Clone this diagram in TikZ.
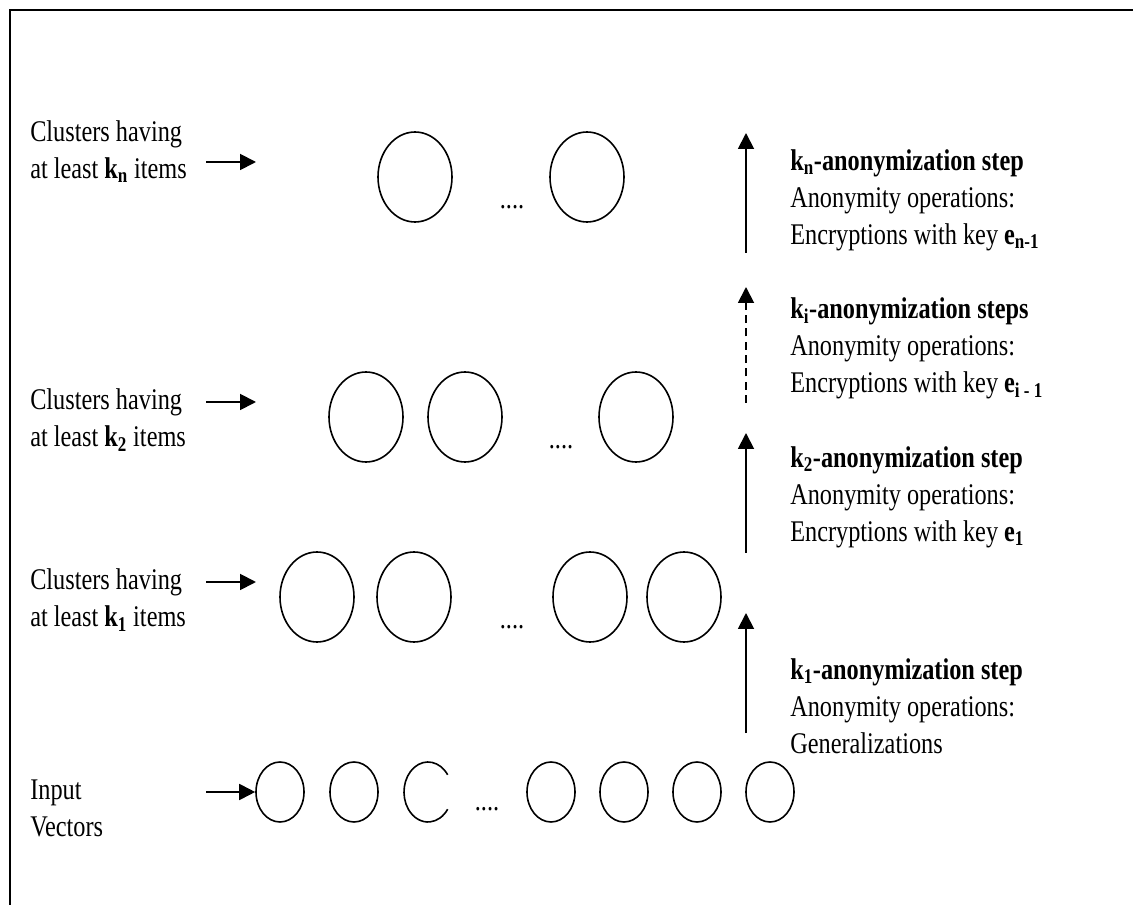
\documentclass[tikz,border=0pt]{standalone}
\usepackage{fontspec}
\setmainfont[FakeStretch=0.81]{Liberation Serif}
\usetikzlibrary{arrows.meta,shapes.geometric}

\tikzset{grappe/.style = {ellipse, draw, line width=1.2pt, inner sep=0pt,
                          minimum width=55.5pt, minimum height=67.5pt},
         vecteur/.style = {grappe, minimum width=36pt, minimum height=45pt},
         texte/.style = {font=\fontsize{22.5}{27.75}\selectfont, align=left,
                         inner sep=0pt, anchor=west},
         points/.style = {font=\fontsize{22.5}{27.75}\selectfont, inner sep=0pt,
                          anchor=base},
         fleche/.style = {line width=1.4pt, -{Triangle[length=12pt,width=12pt]}}
        }

\begin{document}
\begin{tikzpicture}[x=0.75pt, y=-0.75pt]
  \useasboundingbox (0,0) rectangle (1133,905);
  \draw[line width=2.2pt] (10,905) -- (10,10) -- (1133,10);

  % clusters k_n
  \node[texte] (ln) at (30,152) {Clusters having\\at least \textbf{k\textsubscript{n}} items};
  \coordinate (an0) at (206,162);
  \coordinate (an1) at (256,162);
  \draw[fleche] (an0) -- (an1);
  \node[grappe] (cn1) at (415,177) {};
  \node[grappe] (cn2) at (587,177) {};
  \node[points] (pn) at (512,209) {....};

  % clusters k_2
  \node[texte] (l2) at (30,420) {Clusters having\\at least \textbf{k\textsubscript{2}} items};
  \coordinate (a20) at (206,402);
  \coordinate (a21) at (256,402);
  \draw[fleche] (a20) -- (a21);
  \node[grappe] (c21) at (366,417) {};
  \node[grappe] (c22) at (465,417) {};
  \node[grappe] (c23) at (636,417) {};
  \node[points] (p2) at (561,449) {....};

  % clusters k_1
  \node[texte] (l1) at (30,600) {Clusters having\\at least \textbf{k\textsubscript{1}} items};
  \coordinate (a10) at (206,582);
  \coordinate (a11) at (256,582);
  \draw[fleche] (a10) -- (a11);
  \node[grappe] (c11) at (317,597) {};
  \node[grappe] (c12) at (414,597) {};
  \node[grappe] (c13) at (590,597) {};
  \node[grappe] (c14) at (684,597) {};
  \node[points] (p1) at (512,629) {....};

  % input vectors
  \node[texte] (l0) at (30,808) {Input\\Vectors};
  \coordinate (a00) at (206,792);
  \node[vecteur] (v1) at (280,792) {};
  \node[vecteur] (v2) at (354,792) {};
  \node[vecteur, draw=none] (v3) at (428,792) {};
  \draw[line width=1.2pt] (v3.center) ++(35:18pt and 22.5pt)
        arc[start angle=35, end angle=325, x radius=18pt, y radius=22.5pt];
  \node[vecteur] (v4) at (551,792) {};
  \node[vecteur] (v5) at (624,792) {};
  \node[vecteur] (v6) at (697,792) {};
  \node[vecteur] (v7) at (770,792) {};
  \node[points] (p0) at (487,810) {....};
  \draw[fleche] (a00) -- (v1.west);

  % anonymization steps
  \coordinate (s1b) at (746,733);
  \coordinate (s1t) at (746,613);
  \draw[fleche] (s1b) -- (s1t);
  \node[texte] (t1) at (790,706) {\textbf{k\textsubscript{1}-anonymization step}\\Anonymity operations:\\Generalizations};

  \coordinate (s2b) at (746,553);
  \coordinate (s2t) at (746,433);
  \draw[fleche] (s2b) -- (s2t);
  \node[texte] (t2) at (790,497) {\textbf{k\textsubscript{2}-anonymization step}\\Anonymity operations:\\Encryptions with key \textbf{e\textsubscript{1}}};

  \coordinate (sib) at (746,403);
  \coordinate (sit) at (746,287);
  \draw[fleche, dash pattern=on 6pt off 4pt] (sib) -- (sit);
  \node[texte] (ti) at (790,348) {\textbf{k\textsubscript{i}-anonymization steps}\\Anonymity operations:\\Encryptions with key \textbf{e\textsubscript{i - 1}}};

  \coordinate (snb) at (746,253);
  \coordinate (snt) at (746,133);
  \draw[fleche] (snb) -- (snt);
  \node[texte] (tn) at (790,200) {\textbf{k\textsubscript{n}-anonymization step}\\Anonymity operations:\\Encryptions with key \textbf{e\textsubscript{n-1}}};
\end{tikzpicture}
\end{document}
